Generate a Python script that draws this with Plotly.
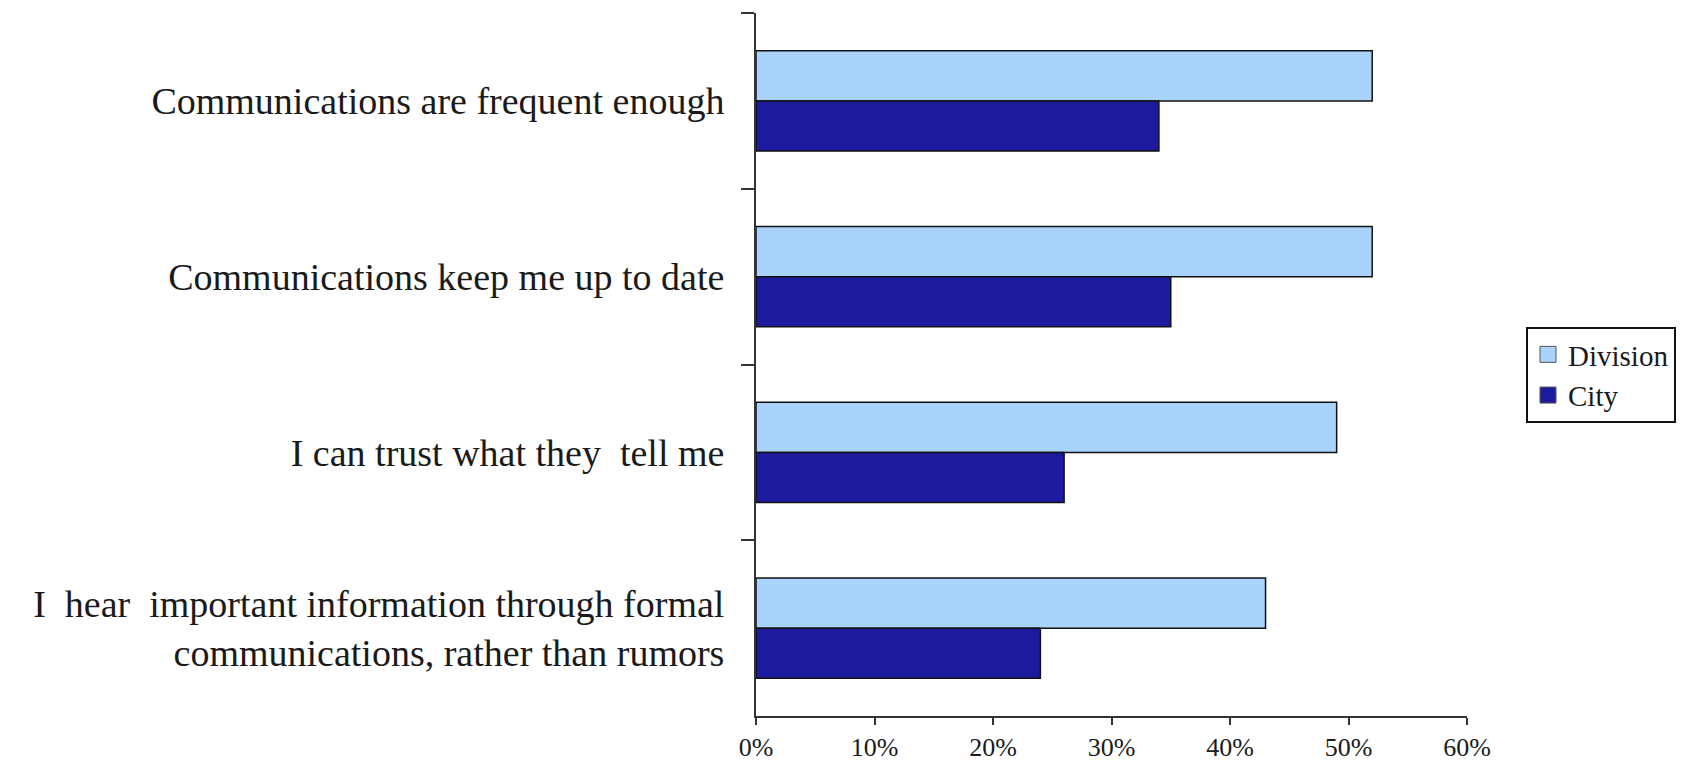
import plotly.graph_objects as go

# Survey statements (top to bottom) and share agreeing, in percent
statements = [
    "Communications are frequent enough",
    "Communications keep me up to date",
    "I can trust what they\u00a0 tell me",
    "I\u00a0 hear\u00a0 important information through formal<br>communications, rather than rumors",
]
division = [52, 52, 49, 43]
city = [34, 35, 26, 24]
x_ticks = [0, 10, 20, 30, 40, 50, 60]
x_tick_labels = ["0%", "10%", "20%", "30%", "40%", "50%", "60%"]

FONT = "Liberation Serif, Times New Roman, serif"
DIVISION_COLOR = "#A9D3FB"
CITY_COLOR = "#1C1A9E"
EDGE = "#111111"

fig = go.Figure()
fig.add_trace(go.Bar(
    name="Division", y=statements, x=division, orientation="h",
    marker=dict(color=DIVISION_COLOR, line=dict(color=EDGE, width=1.5)),
    showlegend=False,
))
fig.add_trace(go.Bar(
    name="City", y=statements, x=city, orientation="h",
    marker=dict(color=CITY_COLOR, line=dict(color=EDGE, width=1.5)),
    showlegend=False,
))

# Legend keys drawn as larger square swatches
for name, color in [("Division", DIVISION_COLOR), ("City", CITY_COLOR)]:
    fig.add_trace(go.Scatter(
        name=name, x=[None], y=[None], mode="markers",
        marker=dict(symbol="square", size=20, color=color,
                    line=dict(color="#555555", width=1)),
        showlegend=True, hoverinfo="skip",
    ))

fig.update_layout(
    width=1686, height=765,
    margin=dict(l=756, r=219, t=13, b=49, autoexpand=False),
    paper_bgcolor="white", plot_bgcolor="white",
    barmode="group", bargap=0.43, bargroupgap=0,
    font=dict(family=FONT, color="#1a1a1a"),
    showlegend=True,
    legend=dict(
        xref="container", yref="container",
        x=1526 / 1686, y=1 - 327 / 765, xanchor="left", yanchor="top",
        bordercolor="#111111", borderwidth=2, bgcolor="white",
        font=dict(family=FONT, size=29, color="#1a1a1a"),
        traceorder="normal", itemwidth=30, tracegroupgap=0,
    ),
)

fig.update_xaxes(
    range=[0, 60], tickmode="array", tickvals=x_ticks, ticktext=x_tick_labels,
    showgrid=False, zeroline=False, automargin=False,
    showline=True, linecolor="#333333", linewidth=2,
    ticks="outside", ticklen=7, tickwidth=2, tickcolor="#333333",
    tickfont=dict(family=FONT, size=26, color="#1a1a1a"),
    fixedrange=True,
)
fig.update_yaxes(
    autorange="reversed", type="category",
    showgrid=False, zeroline=False, automargin=False,
    showline=True, linecolor="#333333", linewidth=2,
    ticks="outside", tickson="boundaries", ticklen=13, tickwidth=2,
    tickcolor="#333333", ticklabelstandoff=22,
    tickfont=dict(family=FONT, size=38, color="#1a1a1a"),
    fixedrange=True,
)

fig.write_html("out.html")
